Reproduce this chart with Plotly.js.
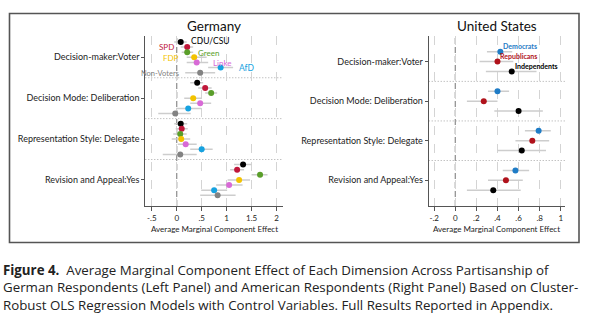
<!DOCTYPE html>
<html>
<head>
<meta charset="utf-8">
<script src="https://cdn.plot.ly/plotly-3.0.1.min.js"></script>
<style>
  html, body { margin: 0; padding: 0; background: #fff; }
  #chart { width: 592px; height: 323px; }
</style>
</head>
<body>
<div id="chart"></div>
<script>
// ---------- DATA ----------
const dimensions = ['Decision-maker:Voter', 'Decision Mode: Deliberation', 'Representation Style: Delegate', 'Revision and Appeal:Yes'];

// Germany (party order top to bottom within each dimension)
const deParties = ['CDU/CSU', 'SPD', 'Green', 'FDP', 'Linke', 'AfD', 'Non-Voters'];
const cduEst = [0.08, 0.41, 0.08, 1.33];
const cduLo  = [-0.05, 0.27, -0.05, 1.15];
const cduHi  = [0.20, 0.53, 0.21, 1.50];
const spdEst = [0.21, 0.57, 0.10, 1.21];
const spdLo  = [0.08, 0.43, -0.02, 1.07];
const spdHi  = [0.33, 0.70, 0.22, 1.35];
const greenEst = [0.21, 0.69, 0.07, 1.67];
const greenLo  = [0.10, 0.57, -0.07, 1.50];
const greenHi  = [0.33, 0.81, 0.20, 1.82];
const fdpEst = [0.35, 0.33, 0.09, 1.25];
const fdpLo  = [0.20, 0.15, -0.10, 1.02];
const fdpHi  = [0.60, 0.50, 0.27, 1.47];
const linkeEst = [0.40, 0.47, 0.18, 1.05];
const linkeLo  = [0.20, 0.27, 0.02, 0.79];
const linkeHi  = [0.63, 0.69, 0.40, 1.32];
const afdEst = [0.88, 0.23, 0.50, 0.75];
const afdLo  = [0.63, -0.01, 0.27, 0.49];
const afdHi  = [1.13, 0.49, 0.72, 1.01];
const nonEst = [0.47, -0.03, 0.07, 0.82];
const nonLo  = [0.17, -0.37, -0.28, 0.47];
const nonHi  = [0.77, 0.28, 0.40, 1.18];

// United States
const usParties = ['Democrats', 'Republicans', 'Independents'];
const demEst = [0.427, 0.40, 0.79, 0.57];
const demLo  = [0.30, 0.31, 0.66, 0.45];
const demHi  = [0.54, 0.51, 0.905, 0.70];
const repEst = [0.40, 0.27, 0.73, 0.48];
const repLo  = [0.23, 0.11, 0.57, 0.31];
const repHi  = [0.55, 0.40, 0.89, 0.64];
const indEst = [0.535, 0.60, 0.63, 0.36];
const indLo  = [0.29, 0.37, 0.40, 0.11];
const indHi  = [0.77, 0.83, 0.86, 0.62];

const deTickVals = [-0.5, 0, 0.5, 1, 1.5, 2];
const deTickText = ['-.5', '0', '.5', '1', '1.5', '2'];
const usTickVals = [-0.2, 0, 0.2, 0.4, 0.6, 0.8, 1];
const usTickText = ['-.2', '0', '.2', '.4', '.6', '.8', '1'];

// ---------- STYLE ----------
const FONT = 'Lato, "Open Sans", sans-serif';
const CAPFONT = '"Open Sans", Lato, sans-serif';
const W = 592, H = 323;
const deColors = ['#000000', '#c0173a', '#5a9e2a', '#f3c300', '#d86ad6', '#16a2e0', '#828282'];
const usColors = ['#1f7cc6', '#b0121b', '#000000'];
const ciColor = '#cdcdcd';

const deData = [
  [cduEst, cduLo, cduHi], [spdEst, spdLo, spdHi], [greenEst, greenLo, greenHi],
  [fdpEst, fdpLo, fdpHi], [linkeEst, linkeLo, linkeHi], [afdEst, afdLo, afdHi],
  [nonEst, nonLo, nonHi]
];
const usData = [[demEst, demLo, demHi], [repEst, repLo, repHi], [indEst, indLo, indHi]];

const deGroup = deParties.length + 1;   // rows per dimension incl. gap
const usGroup = usParties.length + 1;

const px = (x) => x / W;
const py = (y) => 1 - y / H;

const traces = [];
deData.forEach((d, p) => {
  const [est, lo, hi] = d;
  traces.push({
    type: 'scatter', mode: 'markers', xaxis: 'x', yaxis: 'y',
    name: deParties[p],
    x: est, y: est.map((_, g) => g * deGroup + p),
    marker: { color: deColors[p], size: 6 },
    error_x: { type: 'data', symmetric: false,
      array: est.map((v, i) => hi[i] - v), arrayminus: est.map((v, i) => v - lo[i]),
      color: ciColor, thickness: 1.5, width: 0 },
    showlegend: false, hoverinfo: 'skip'
  });
});
usData.forEach((d, p) => {
  const [est, lo, hi] = d;
  traces.push({
    type: 'scatter', mode: 'markers', xaxis: 'x2', yaxis: 'y2',
    name: usParties[p],
    x: est, y: est.map((_, g) => g * usGroup + p),
    marker: { color: usColors[p], size: 6 },
    error_x: { type: 'data', symmetric: false,
      array: est.map((v, i) => hi[i] - v), arrayminus: est.map((v, i) => v - lo[i]),
      color: ciColor, thickness: 1.5, width: 0 },
    showlegend: false, hoverinfo: 'skip'
  });
});

const axisFont = { family: FONT, size: 9, color: '#222' };
const xCommon = {
  showgrid: true, gridcolor: '#d4d4d4', griddash: 'dash', gridwidth: 1,
  zeroline: false, showline: true, linecolor: '#555', linewidth: 1,
  ticks: 'outside', ticklen: 4, tickcolor: '#555', tickmode: 'array',
  tickfont: { family: FONT, size: 8, color: '#222' }, fixedrange: true
};
const yCommon = {
  showgrid: false, zeroline: false, showline: true, linecolor: '#555', linewidth: 1,
  ticks: 'outside', ticklen: 3, tickcolor: '#555', tickmode: 'array',
  tickfont: axisFont, fixedrange: true
};

const layout = {
  width: W, height: H,
  margin: { l: 0, r: 0, t: 0, b: 0 },
  paper_bgcolor: '#fff', plot_bgcolor: '#fff',
  showlegend: false,
  xaxis: Object.assign({}, xCommon, { domain: [px(145.3), px(283)], range: [-0.63, 2.13],
    tickvals: deTickVals, ticktext: deTickText, anchor: 'y' }),
  yaxis: Object.assign({}, yCommon, { domain: [py(206), py(36)], range: [32.1, -1.17],
    tickvals: dimensions.map((_, g) => g * deGroup + 3), ticktext: dimensions, anchor: 'x' }),
  xaxis2: Object.assign({}, xCommon, { domain: [px(428.7), px(565)], range: [-0.252, 1.04],
    tickvals: usTickVals, ticktext: usTickText, anchor: 'y2' }),
  yaxis2: Object.assign({}, yCommon, { domain: [py(206), py(36)], range: [15.6, -1.59],
    tickvals: dimensions.map((_, g) => g * usGroup + 1), ticktext: dimensions, anchor: 'x2' }),
  shapes: [],
  annotations: []
};

// zero reference lines
layout.shapes.push({ type: 'line', xref: 'x', yref: 'y domain', x0: 0, x1: 0, y0: 0, y1: 1,
  line: { color: '#8a8a8a', width: 1.2, dash: '6px,3px' }, layer: 'below' });
layout.shapes.push({ type: 'line', xref: 'x2', yref: 'y2 domain', x0: 0, x1: 0, y0: 0, y1: 1,
  line: { color: '#8a8a8a', width: 1.2, dash: '6px,3px' }, layer: 'below' });
// dotted separators between dimensions
for (let g = 1; g < dimensions.length; g++) {
  layout.shapes.push({ type: 'line', xref: 'x domain', yref: 'y', x0: 0, x1: 1,
    y0: g * deGroup - 1, y1: g * deGroup - 1, line: { color: '#a8a8a8', width: 1, dash: '1px,2px' }, layer: 'below' });
  layout.shapes.push({ type: 'line', xref: 'x2 domain', yref: 'y2', x0: 0, x1: 1,
    y0: g * usGroup - 1, y1: g * usGroup - 1, line: { color: '#a8a8a8', width: 1, dash: '1px,2px' }, layer: 'below' });
}
// outer frame
layout.shapes.push({ type: 'rect', xref: 'paper', yref: 'paper',
  x0: px(9.5), x1: px(579), y0: py(242.5), y1: py(13.5),
  line: { color: '#555', width: 1.6 } });

// panel titles
layout.annotations.push({ xref: 'paper', yref: 'paper', x: px(214.2), y: py(26), text: 'Germany',
  showarrow: false, xanchor: 'center', yanchor: 'middle', font: { family: FONT, size: 13.5, color: '#111' } });
layout.annotations.push({ xref: 'paper', yref: 'paper', x: px(496.8), y: py(26), text: 'United States',
  showarrow: false, xanchor: 'center', yanchor: 'middle', font: { family: FONT, size: 13.5, color: '#111' } });
// x axis titles
layout.annotations.push({ xref: 'paper', yref: 'paper', x: px(214.2), y: py(229), text: 'Average Marginal Component Effect',
  showarrow: false, xanchor: 'center', yanchor: 'middle', font: { family: FONT, size: 8, color: '#222' } });
layout.annotations.push({ xref: 'paper', yref: 'paper', x: px(496.8), y: py(229), text: 'Average Marginal Component Effect',
  showarrow: false, xanchor: 'center', yanchor: 'middle', font: { family: FONT, size: 8, color: '#222' } });

// in-plot party labels (first dimension), anchored to their points
const deLabelPos = [
  { anchor: 'left', dx: 8, dy: 0.5, size: 8.5 },
  { anchor: 'right', dx: -11, dy: 0, size: 8 },
  { anchor: 'left', dx: 9, dy: -1, size: 8 },
  { anchor: 'right', dx: -13, dy: -1, size: 8 },
  { anchor: 'left', dx: 14, dy: -1, size: 8 },
  { anchor: 'left', dx: 16, dy: -0.5, size: 8.5 },
  { anchor: 'right', dx: -19, dy: -1, size: 7.5 }
];
deData.forEach((d, p) => {
  const s = deLabelPos[p];
  layout.annotations.push({ xref: 'x', yref: 'y', x: d[0][0], y: p, text: deParties[p],
    showarrow: false, xanchor: s.anchor, yanchor: 'middle', xshift: s.dx, yshift: s.dy,
    font: { family: FONT, size: s.size, color: deColors[p] } });
});
usData.forEach((d, p) => {
  layout.annotations.push({ xref: 'x2', yref: 'y2', x: d[0][0], y: p, text: '<b>' + usParties[p] + '</b>',
    showarrow: false, xanchor: 'left', yanchor: 'middle', xshift: 1, yshift: 5.5,
    font: { family: FONT, size: 7, color: usColors[p] } });
});

// caption
const captionLines = [
  '<b>Figure 4.</b>&nbsp; Average Marginal Component Effect of Each Dimension Across Partisanship of',
  'German Respondents (Left Panel) and American Respondents (Right Panel) Based on Cluster-',
  'Robust OLS Regression Models with Control Variables. Full Results Reported in Appendix.'
];
const captionY = [270, 287.3, 304.5];
captionLines.forEach((t, i) => {
  layout.annotations.push({ xref: 'paper', yref: 'paper', x: px(1), y: py(captionY[i]), text: t,
    showarrow: false, xanchor: 'left', yanchor: 'middle', align: 'left',
    font: { family: CAPFONT, size: 13.3, color: '#222' } });
});

Plotly.newPlot('chart', traces, layout, { staticPlot: true, displayModeBar: false });
</script>
</body>
</html>
